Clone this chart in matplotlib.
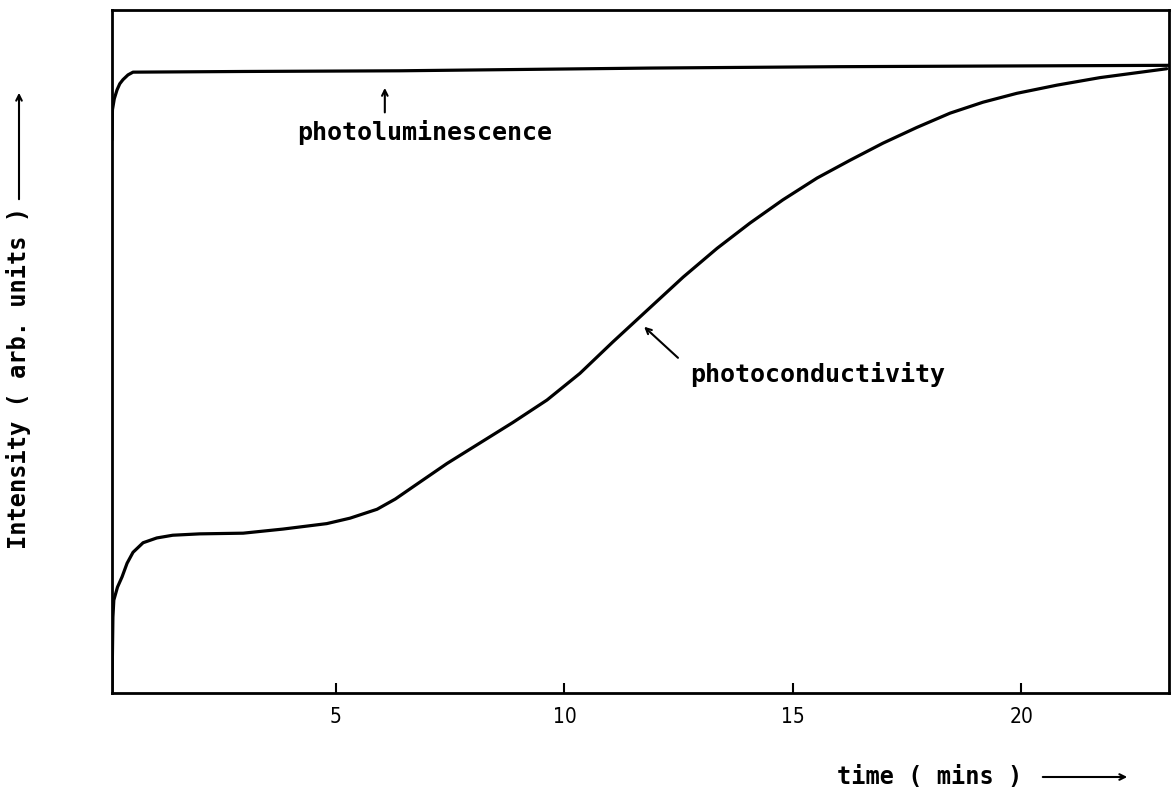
import matplotlib.pyplot as plt

# photoluminescence and photoconductivity rise after switching on illumination
pl_time = [0.10, 0.105, 0.11, 0.15, 0.21, 0.27, 0.34, 0.45, 0.56, 3.0, 6.4, 11.9, 16.0, 19.5, 23.23]
pl_intensity = [81.0, 83.5, 85.4, 87.0, 88.3, 89.2, 89.8, 90.5, 90.9, 91.0, 91.1, 91.5, 91.7, 91.8, 91.9]

pc_time = [0.10, 0.11, 0.12, 0.14, 0.22, 0.32, 0.43, 0.56, 0.78, 1.08, 1.43, 2.02, 2.97, 3.84,
           4.80, 5.31, 5.90, 6.30, 6.69, 7.43, 8.15, 8.87, 9.62, 10.34, 11.06, 11.87, 12.60, 13.34,
           14.06, 14.78, 15.53, 16.25, 16.97, 17.71, 18.44, 19.16, 19.90, 20.78, 21.72, 23.18]
pc_intensity = [0.0, 6.0, 11.1, 13.6, 15.5, 17.0, 19.0, 20.6, 22.0, 22.7, 23.1, 23.3, 23.4, 24.0,
                24.8, 25.6, 26.9, 28.4, 30.2, 33.6, 36.6, 39.6, 42.9, 46.8, 51.4, 56.4, 60.9, 65.1,
                68.8, 72.2, 75.4, 78.0, 80.5, 82.8, 84.9, 86.5, 87.8, 89.0, 90.1, 91.4]

xticks = [5, 10, 15, 20]

mono = dict(family='DejaVu Sans Mono', weight='bold')

fig = plt.figure(figsize=(11.75, 7.99), dpi=100)
ax = fig.add_axes([112/1175, 106/799, 1057/1175, 683/799])

ax.plot(pl_time, pl_intensity, color='black', lw=2.3, solid_capstyle='round', solid_joinstyle='round')
ax.plot(pc_time, pc_intensity, color='black', lw=2.3, solid_capstyle='round', solid_joinstyle='round')

ax.set_xlim(0.1, 23.23)
ax.set_ylim(0, 100)
ax.set_xticks(xticks)
ax.set_yticks([])
ax.tick_params(axis='x', direction='in', length=7, width=1.5, pad=10, labelsize=15)
for lab in ax.get_xticklabels():
    lab.set_fontstretch('condensed')
for sp in ax.spines.values():
    sp.set_linewidth(2)

# curve labels
ax.annotate('', xy=(6.07, 89.0), xytext=(6.07, 84.6),
            arrowprops=dict(arrowstyle='->', lw=1.5, color='black'))
ax.text(6.95, 82.0, 'photoluminescence', ha='center', va='center', size=18, **mono)

ax.annotate('', xy=(11.70, 53.9), xytext=(12.53, 48.8),
            arrowprops=dict(arrowstyle='->', lw=1.5, color='black'))
ax.text(12.75, 46.6, 'photoconductivity', ha='left', va='center', size=18, **mono)

# axis titles with long arrows
fig.text(837/1175, 22/799, 'time ( mins )', ha='left', va='center', size=17, **mono)
fig.add_artist(plt.Annotation('', xy=(1130, 22), xytext=(1040, 22), xycoords='figure pixels',
                              arrowprops=dict(arrowstyle='->', lw=1.5, color='black')))

fig.text(19/1175, (799-378)/799, 'Intensity ( arb. units )', rotation=90,
         ha='center', va='center', size=17, **mono)
fig.add_artist(plt.Annotation('', xy=(19, 799-90), xytext=(19, 799-202), xycoords='figure pixels',
                              arrowprops=dict(arrowstyle='->', lw=1.5, color='black')))

plt.savefig('out.png', dpi=100)
